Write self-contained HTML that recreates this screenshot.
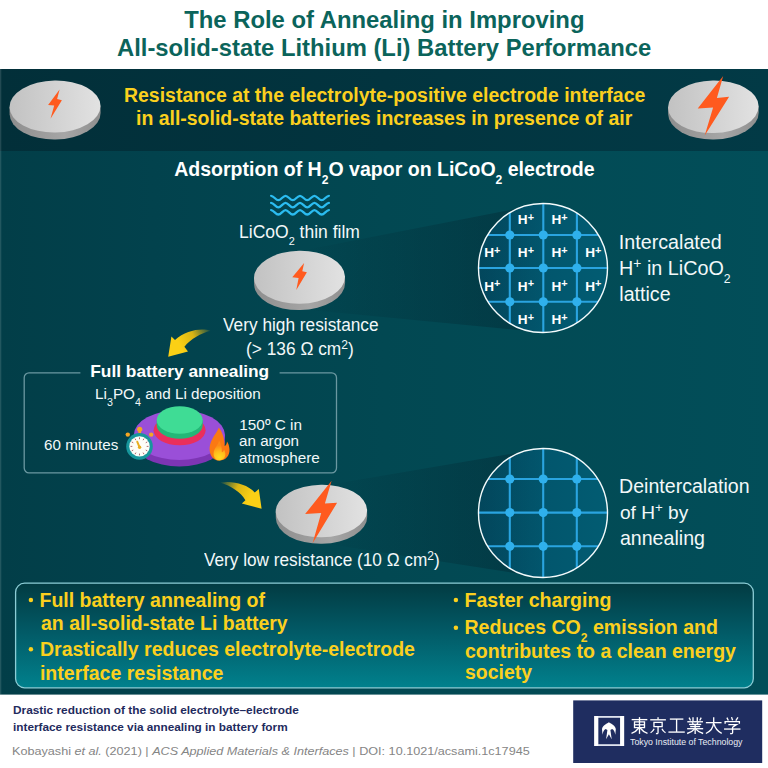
<!DOCTYPE html>
<html>
<head>
<meta charset="utf-8">
<title>The Role of Annealing in Improving All-solid-state Lithium (Li) Battery Performance</title>
<style>
*{margin:0;padding:0;box-sizing:border-box}
html,body{width:768px;height:768px;overflow:hidden;background:#fff}
body{font-family:"Liberation Sans",sans-serif;position:relative}
.abs{position:absolute}
.t{position:absolute;white-space:nowrap;line-height:1;transform-origin:0 0}
sub{font-size:.62em;vertical-align:baseline;position:relative;top:.68em;line-height:0}
sup{font-size:.70em;vertical-align:baseline;position:relative;top:-.53em;line-height:0}
.ti{color:#0b645b;font-weight:bold}
.yb{color:#fbd01e;font-weight:bold}
.wb{color:#ffffff;font-weight:bold}
.w{color:#f2f8f9}
.fb{color:#1f2b5e;font-weight:bold}
.fg{color:#858585}
.lw{color:#e9ecf4}
.hp{position:absolute;color:#fff;font-weight:bold;font-size:13.6px;line-height:1;white-space:nowrap}
.hp sup{font-size:.8em;top:-.30em}
#li sub{font-size:.70em;top:.66em}
#band{left:0;top:68.5px;width:768px;height:82.5px;background:linear-gradient(90deg,#022f39 0%,#02343f 50%,#023a46 100%)}
#main{left:0;top:151px;width:768px;height:544px;background:linear-gradient(90deg,#023e48 0%,#02424d 20%,#024852 50%,#024e59 100%)}
</style>
</head>
<body>
<div class="abs" id="band"></div>
<div class="abs" id="main"></div>
<svg class="abs" style="left:0;top:0" width="768" height="768" viewBox="0 0 768 768">
<defs>
<linearGradient id="dk_t" x1="0" y1="0" x2="1" y2="0"><stop offset="0" stop-color="#c2c2c2"/><stop offset="1" stop-color="#e2e2e2"/></linearGradient>
<linearGradient id="dk_s" x1="0" y1="0" x2="1" y2="0"><stop offset="0" stop-color="#8e8e8e"/><stop offset="0.6" stop-color="#a6a6a6"/><stop offset="1" stop-color="#8f8f8f"/></linearGradient>
<linearGradient id="cone" x1="0" y1="0" x2="1" y2="0"><stop offset="0" stop-color="#03202b" stop-opacity="0"/><stop offset="0.25" stop-color="#03202b" stop-opacity="0.13"/><stop offset="1" stop-color="#03202b" stop-opacity="0.40"/></linearGradient>
<linearGradient id="latbg" x1="0" y1="0" x2="1" y2="0"><stop offset="0" stop-color="#025068"/><stop offset="1" stop-color="#025c72"/></linearGradient>
<linearGradient id="latsh" x1="0" y1="0" x2="1" y2="0"><stop offset="0" stop-color="#05202b" stop-opacity="0.2"/><stop offset="0.5" stop-color="#05202b" stop-opacity="0"/></linearGradient>
<linearGradient id="ar1" gradientUnits="userSpaceOnUse" x1="212" y1="329" x2="180" y2="345"><stop offset="0" stop-color="#f5c40c" stop-opacity="0"/><stop offset="0.55" stop-color="#f2c20d" stop-opacity="0.9"/><stop offset="1" stop-color="#fbd015"/></linearGradient>
<linearGradient id="ar2" gradientUnits="userSpaceOnUse" x1="219" y1="482" x2="250" y2="497"><stop offset="0" stop-color="#f5c40c" stop-opacity="0"/><stop offset="0.55" stop-color="#f2c20d" stop-opacity="0.9"/><stop offset="1" stop-color="#fbd015"/></linearGradient>
<linearGradient id="bbx" x1="0" y1="0" x2="0" y2="1"><stop offset="0" stop-color="#023b42"/><stop offset="0.45" stop-color="#025965"/><stop offset="1" stop-color="#01818d"/></linearGradient>
<radialGradient id="flin" gradientUnits="userSpaceOnUse" cx="219.3" cy="457.5" r="12"><stop offset="0" stop-color="#ffdc22"/><stop offset="0.45" stop-color="#ffc01c"/><stop offset="1" stop-color="#fd8a16"/></radialGradient>
</defs>
<rect x="0" y="69" width="1.3" height="625.6" fill="#ffffff" fill-opacity="0.13"/>
<polygon points="300,251 543,203.5 543,332.5 300,309" fill="url(#cone)"/>
<polygon points="322,486 543,448.5 543,577.5 322,543" fill="url(#cone)"/>
<g transform="rotate(-1 55 106.5)"><path d="M9.5,106.5 v7.0 a45.5,26.0 0 0 0 91.0,0 v-7.0 z" fill="url(#dk_s)"/><ellipse cx="55.0" cy="106.5" rx="45.5" ry="26.0" fill="url(#dk_t)"/></g>
<polygon points="59.6,89.4 48.1,104.9 54.2,105.5 50.5,118.7 61.9,100.3 57.1,98.9" fill="#ff5a1e"/>
<g transform="rotate(-1 713.3 106.8)"><path d="M668.0,106.8 v6.5 a45.3,26.3 0 0 0 90.6,0 v-6.5 z" fill="url(#dk_s)"/><ellipse cx="713.3" cy="106.8" rx="45.3" ry="26.3" fill="url(#dk_t)"/></g>
<polygon points="723.2,76.1 697.7,108.4 713.1,107.5 704.7,135.6 729.1,96.7 716.9,98.1" fill="#ff5a1e"/>
<path d="M271.10,195.80 C273.73,195.80 275.69,200.20 278.33,200.20 C280.96,200.20 282.92,195.80 285.55,195.80 C288.18,195.80 290.14,200.20 292.78,200.20 C295.41,200.20 297.37,195.80 300.00,195.80 C302.63,195.80 304.59,200.20 307.23,200.20 C309.86,200.20 311.82,195.80 314.45,195.80 C317.08,195.80 319.04,200.20 321.68,200.20 C324.31,200.20 326.27,195.80 328.90,195.80" fill="none" stroke="#2bbcf0" stroke-width="2.3" stroke-linecap="round"/>
<path d="M271.10,202.90 C273.73,202.90 275.69,207.30 278.33,207.30 C280.96,207.30 282.92,202.90 285.55,202.90 C288.18,202.90 290.14,207.30 292.78,207.30 C295.41,207.30 297.37,202.90 300.00,202.90 C302.63,202.90 304.59,207.30 307.23,207.30 C309.86,207.30 311.82,202.90 314.45,202.90 C317.08,202.90 319.04,207.30 321.68,207.30 C324.31,207.30 326.27,202.90 328.90,202.90" fill="none" stroke="#2bbcf0" stroke-width="2.3" stroke-linecap="round"/>
<path d="M271.10,210.10 C273.73,210.10 275.69,214.50 278.33,214.50 C280.96,214.50 282.92,210.10 285.55,210.10 C288.18,210.10 290.14,214.50 292.78,214.50 C295.41,214.50 297.37,210.10 300.00,210.10 C302.63,210.10 304.59,214.50 307.23,214.50 C309.86,214.50 311.82,210.10 314.45,210.10 C317.08,210.10 319.04,214.50 321.68,214.50 C324.31,214.50 326.27,210.10 328.90,210.10" fill="none" stroke="#2bbcf0" stroke-width="2.3" stroke-linecap="round"/>
<g transform="rotate(-1 299.5 277.3)"><path d="M254.0,277.3 v6.3 a45.5,26.5 0 0 0 91.0,0 v-6.3 z" fill="url(#dk_s)"/><ellipse cx="299.5" cy="277.3" rx="45.5" ry="26.5" fill="url(#dk_t)"/></g>
<polygon points="304.1,263.0 292.3,277.3 298.6,277.9 296.3,290.0 306.9,272.2 302.3,271.3" fill="#ff5a1e"/>
<clipPath id="lc1"><circle cx="543.0" cy="268.0" r="64.5"/></clipPath><circle cx="543.0" cy="268.0" r="64.5" fill="url(#latbg)"/><g clip-path="url(#lc1)"><polygon points="478.5,203.5 607.5,203.5 607.5,332.5 478.5,332.5" fill="url(#latsh)"/><line x1="509.8" y1="203.5" x2="509.8" y2="332.5" stroke="#2aa4e0" stroke-width="2.1"/><line x1="543.3" y1="203.5" x2="543.3" y2="332.5" stroke="#2aa4e0" stroke-width="2.1"/><line x1="576.9" y1="203.5" x2="576.9" y2="332.5" stroke="#2aa4e0" stroke-width="2.1"/><line x1="478.5" y1="235.0" x2="607.5" y2="235.0" stroke="#2aa4e0" stroke-width="2.1"/><line x1="478.5" y1="268.0" x2="607.5" y2="268.0" stroke="#2aa4e0" stroke-width="2.1"/><line x1="478.5" y1="301.8" x2="607.5" y2="301.8" stroke="#2aa4e0" stroke-width="2.1"/><circle cx="509.8" cy="235.0" r="4.6" fill="#2fb0ec"/><circle cx="509.8" cy="268.0" r="4.6" fill="#2fb0ec"/><circle cx="509.8" cy="301.8" r="4.6" fill="#2fb0ec"/><circle cx="543.3" cy="235.0" r="4.6" fill="#2fb0ec"/><circle cx="543.3" cy="268.0" r="4.6" fill="#2fb0ec"/><circle cx="543.3" cy="301.8" r="4.6" fill="#2fb0ec"/><circle cx="576.9" cy="235.0" r="4.6" fill="#2fb0ec"/><circle cx="576.9" cy="268.0" r="4.6" fill="#2fb0ec"/><circle cx="576.9" cy="301.8" r="4.6" fill="#2fb0ec"/></g><circle cx="543.0" cy="268.0" r="64.5" fill="none" stroke="#f4fbfc" stroke-width="1.4"/>
<clipPath id="lc2"><circle cx="543.0" cy="513.0" r="64.5"/></clipPath><circle cx="543.0" cy="513.0" r="64.5" fill="url(#latbg)"/><g clip-path="url(#lc2)"><polygon points="478.5,448.5 607.5,448.5 607.5,577.5 478.5,577.5" fill="url(#latsh)"/><line x1="509.8" y1="448.5" x2="509.8" y2="577.5" stroke="#2aa4e0" stroke-width="2.1"/><line x1="543.2" y1="448.5" x2="543.2" y2="577.5" stroke="#2aa4e0" stroke-width="2.1"/><line x1="576.8" y1="448.5" x2="576.8" y2="577.5" stroke="#2aa4e0" stroke-width="2.1"/><line x1="478.5" y1="479.0" x2="607.5" y2="479.0" stroke="#2aa4e0" stroke-width="2.1"/><line x1="478.5" y1="512.6" x2="607.5" y2="512.6" stroke="#2aa4e0" stroke-width="2.1"/><line x1="478.5" y1="546.3" x2="607.5" y2="546.3" stroke="#2aa4e0" stroke-width="2.1"/><circle cx="509.8" cy="479.0" r="4.6" fill="#2fb0ec"/><circle cx="509.8" cy="512.6" r="4.6" fill="#2fb0ec"/><circle cx="509.8" cy="546.3" r="4.6" fill="#2fb0ec"/><circle cx="543.2" cy="479.0" r="4.6" fill="#2fb0ec"/><circle cx="543.2" cy="512.6" r="4.6" fill="#2fb0ec"/><circle cx="543.2" cy="546.3" r="4.6" fill="#2fb0ec"/><circle cx="576.8" cy="479.0" r="4.6" fill="#2fb0ec"/><circle cx="576.8" cy="512.6" r="4.6" fill="#2fb0ec"/><circle cx="576.8" cy="546.3" r="4.6" fill="#2fb0ec"/></g><circle cx="543.0" cy="513.0" r="64.5" fill="none" stroke="#f4fbfc" stroke-width="1.4"/>
<path d="M210.5,330.8 C203,327.6 186,329.5 175,340 L171.4,336.4 L168.2,356.7 L188,351.5 L184.4,346.8 C191,338.5 201,333.5 210.5,330.8 Z" fill="url(#ar1)"/>
<path d="M220.2,482.6 C232,480.5 247,484 254.8,492.4 L258.8,489 L261.6,508.8 L241.8,503.5 L245.4,500.2 C241,492.5 231,486 220.2,482.6 Z" fill="url(#ar2)"/>
<path d="M80.4,372.9 H29 a4.8,4.8 0 0 0 -4.8,4.8 V468.1 a4.8,4.8 0 0 0 4.8,4.8 H331.7 a4.8,4.8 0 0 0 4.8,-4.8 V377.7 a4.8,4.8 0 0 0 -4.8,-4.8 H279.6" fill="none" stroke="#6b98a1" stroke-width="1.3"/>
<path d="M133.8,435 v6.5 a45.6,25 0 0 0 91.2,0 v-6.5 z" fill="#7d35b4"/>
<ellipse cx="179.4" cy="435" rx="45.6" ry="25" fill="#9a4fd8"/>
<ellipse cx="179.6" cy="430.3" rx="26" ry="15" fill="#ea2f5c"/>
<path d="M156.7,420 v5 a23,13.8 0 0 0 46,0 v-5 z" fill="#23b877"/>
<ellipse cx="179.7" cy="420" rx="23" ry="13.8" fill="#3fdc95"/>
<circle cx="139.7" cy="429.3" r="2.6" fill="#f5a623"/><rect x="138.4" y="430" width="2.6" height="5" fill="#f5a623"/>
<circle cx="127.8" cy="434.6" r="2.2" fill="#f5a623"/><circle cx="151.2" cy="434.6" r="2.2" fill="#f5a623"/>
<circle cx="139.5" cy="446.4" r="13.3" fill="#17969c"/><circle cx="139.5" cy="446.4" r="10.2" fill="#fdfdf8"/>
<g stroke="#a85860" stroke-width="0.9"><line x1="139.50" y1="439.20" x2="139.50" y2="437.40"/><line x1="143.10" y1="440.16" x2="144.00" y2="438.61"/><line x1="145.74" y1="442.80" x2="147.29" y2="441.90"/><line x1="146.70" y1="446.40" x2="148.50" y2="446.40"/><line x1="145.74" y1="450.00" x2="147.29" y2="450.90"/><line x1="143.10" y1="452.64" x2="144.00" y2="454.19"/><line x1="139.50" y1="453.60" x2="139.50" y2="455.40"/><line x1="135.90" y1="452.64" x2="135.00" y2="454.19"/><line x1="133.26" y1="450.00" x2="131.71" y2="450.90"/><line x1="132.30" y1="446.40" x2="130.50" y2="446.40"/><line x1="133.26" y1="442.80" x2="131.71" y2="441.90"/><line x1="135.90" y1="440.16" x2="135.00" y2="438.61"/></g>
<path d="M139.6,447.4 L137.3,441.8" stroke="#e8ae22" stroke-width="2" stroke-linecap="round"/><circle cx="139.6" cy="447.2" r="1.7" fill="#e8ae22"/>
<path d="M218.8,427.6 C217.6,431.5 214.6,434.5 212.6,438.4 C210.3,442.6 209.3,446.5 209.6,450 C210.2,456.6 214,460.5 219,460.6 C225.6,460.7 229.8,455.6 229.5,449.5 C229.3,446 228.3,443.5 227,441.6 C226.8,444 226,445.6 224.6,446 C225,440 222.6,432.5 218.8,427.6 Z" fill="#fb7913"/>
<path d="M219,440.5 C218.5,445 214,448 213.6,453 C213.3,457.6 216,460.4 219.3,460.4 C223,460.4 225.7,457.6 225.4,453.6 C225.2,451.8 224.6,450.4 224,449.4 C223.6,451.2 222.8,452 221.8,452.2 C222.2,448.5 221,443.5 219,440.5 Z" fill="url(#flin)"/>
<g transform="rotate(-1 321.4 511)"><path d="M275.7,511.0 v6.5 a45.7,26.3 0 0 0 91.4,0 v-6.5 z" fill="url(#dk_s)"/><ellipse cx="321.4" cy="511.0" rx="45.7" ry="26.3" fill="url(#dk_t)"/></g>
<polygon points="331.6,480.7 305.1,514.1 321.2,513.1 312.6,543.3 337.1,502.7 324.9,503.5" fill="#ff5a1e"/>
<rect x="15.6" y="583.2" width="737.7" height="104.6" rx="9" ry="9" fill="url(#bbx)" stroke="#8ccdd6" stroke-width="1.3"/>
<circle cx="30.9" cy="599.9" r="2.25" fill="#fbd01e"/>
<circle cx="30.9" cy="649.3" r="2.25" fill="#fbd01e"/>
<circle cx="455.9" cy="599.9" r="2.25" fill="#fbd01e"/>
<circle cx="455.9" cy="627.7" r="2.25" fill="#fbd01e"/>
<rect x="0" y="694.6" width="768" height="74" fill="#ffffff"/>
<rect x="573.2" y="700.4" width="189" height="62.6" fill="#1f2d60"/>
<rect x="594.3" y="716" width="29.8" height="30" fill="#dfe3ee"/>
<rect x="598.2" y="717.8" width="22" height="26.4" fill="#1f2d60"/>
<rect x="594.3" y="716" width="3.9" height="30" fill="#ffffff"/><rect x="620.2" y="716" width="3.9" height="30" fill="#ffffff"/>
<path d="M608.9,722.2 C606.2,724 602.6,725.4 602,729 L602.5,734.8 C603,731.6 604,729.7 605.7,728.9 L607.4,730 L606.1,739.3 L608.9,734.2 L611.7,739.3 L610.4,730 L612.1,728.9 C613.8,729.7 614.8,731.6 615.3,734.8 L615.8,729 C615.2,725.4 611.6,724 608.9,722.2 Z" fill="#ffffff"/>
<g transform="translate(630.60 716.60) scale(0.1780)" fill="none" stroke="#ffffff" stroke-width="7.5" stroke-linecap="butt"><path d="M6,17 H94"/><path d="M50,3 V97"/><path d="M22,30 H78 V62 H22 Z"/><path d="M22,46 H78"/><path d="M46,64 C36,78 22,88 5,94"/><path d="M54,64 C64,78 78,88 95,94"/></g>
<g transform="translate(649.15 716.60) scale(0.1780)" fill="none" stroke="#ffffff" stroke-width="7.5" stroke-linecap="butt"><path d="M50,3 V16"/><path d="M6,18 H94"/><path d="M27,32 H73 V56 H27 Z"/><path d="M50,56 V90 C50,96 46,96 38,95"/><path d="M28,68 C24,78 16,86 8,91"/><path d="M72,68 C76,78 84,86 92,91"/></g>
<g transform="translate(667.70 716.60) scale(0.1780)" fill="none" stroke="#ffffff" stroke-width="7.5" stroke-linecap="butt"><path d="M12,14 H88"/><path d="M50,14 V86"/><path d="M4,87 H96"/></g>
<g transform="translate(686.25 716.60) scale(0.1780)" fill="none" stroke="#ffffff" stroke-width="7.5" stroke-linecap="butt"><path d="M38,3 V28"/><path d="M62,3 V28"/><path d="M16,6 L24,22"/><path d="M84,6 L76,22"/><path d="M6,29 H94"/><path d="M34,32 L39,42"/><path d="M66,32 L61,42"/><path d="M16,44 H84"/><path d="M22,56 H78"/><path d="M5,68 H95"/><path d="M50,44 V98"/><path d="M46,70 C36,82 22,90 5,95"/><path d="M54,70 C64,82 78,90 95,95"/></g>
<g transform="translate(704.80 716.60) scale(0.1780)" fill="none" stroke="#ffffff" stroke-width="7.5" stroke-linecap="butt"><path d="M6,34 H94"/><path d="M50,3 V34 C48,60 34,82 6,95"/><path d="M51,40 C58,64 74,84 95,94"/></g>
<g transform="translate(723.35 716.60) scale(0.1780)" fill="none" stroke="#ffffff" stroke-width="7.5" stroke-linecap="butt"><path d="M20,6 L28,22"/><path d="M46,3 L52,20"/><path d="M82,5 L70,22"/><path d="M10,40 V28 H90 V40"/><path d="M28,45 H74 L54,58"/><path d="M52,57 V90 C52,97 47,97 38,95"/><path d="M4,70 H96"/></g>
</svg>
<div class="hp" style="left:517.8px;top:212.8px">H<sup>+</sup></div>
<div class="hp" style="left:551.5px;top:212.8px">H<sup>+</sup></div>
<div class="hp" style="left:484.2px;top:246.1px">H<sup>+</sup></div>
<div class="hp" style="left:517.8px;top:246.1px">H<sup>+</sup></div>
<div class="hp" style="left:551.5px;top:246.1px">H<sup>+</sup></div>
<div class="hp" style="left:585.2px;top:246.1px">H<sup>+</sup></div>
<div class="hp" style="left:484.2px;top:279.7px">H<sup>+</sup></div>
<div class="hp" style="left:517.8px;top:279.7px">H<sup>+</sup></div>
<div class="hp" style="left:551.5px;top:279.7px">H<sup>+</sup></div>
<div class="hp" style="left:585.2px;top:279.7px">H<sup>+</sup></div>
<div class="hp" style="left:517.8px;top:313.4px">H<sup>+</sup></div>
<div class="hp" style="left:551.5px;top:313.4px">H<sup>+</sup></div>
<div class="t ti" id="t1" style="left:184.24px;top:8.10px;font-size:23.84px;transform:scaleX(1.0000)">The Role of Annealing in Improving</div>
<div class="t ti" id="t2" style="left:116.97px;top:36.10px;font-size:23.80px;transform:scaleX(1.0000)">All-solid-state Lithium (Li) Battery Performance</div>
<div class="t yb" id="y1" style="left:124.00px;top:86.10px;font-size:19.50px;transform:scaleX(0.9979)">Resistance at the electrolyte-positive electrode interface</div>
<div class="t yb" id="y2" style="left:136.10px;top:109.10px;font-size:19.50px;transform:scaleX(0.9976)">in all-solid-state batteries increases in presence of air</div>
<div class="t wb" id="ad" style="left:174.18px;top:160.10px;font-size:19.54px;transform:scaleX(1.0000)">Adsorption of H<sub>2</sub>O vapor on LiCoO<sub>2</sub> electrode</div>
<div class="t w" id="tf" style="left:239.28px;top:224.12px;font-size:17.50px;transform:scaleX(1.0005)">LiCoO<sub>2</sub> thin film</div>
<div class="t w" id="vh" style="left:222.50px;top:317.14px;font-size:17.50px;transform:scaleX(0.9875)">Very high resistance</div>
<div class="t w" id="vh2" style="left:246.46px;top:341.14px;font-size:17.50px;transform:scaleX(0.9895)">(&gt; 136 &Omega; cm<sup>2</sup>)</div>
<div class="t wb" id="fb" style="left:90.28px;top:363.10px;font-size:17.32px;transform:scaleX(1.0000)">Full battery annealing</div>
<div class="t w" id="li" style="left:95.07px;top:386.30px;font-size:15.29px;transform:scaleX(1.0000)">Li<sub>3</sub>PO<sub>4</sub> and Li deposition</div>
<div class="t w" id="m60" style="left:44.07px;top:437.35px;font-size:15.18px;transform:scaleX(1.0000)">60 minutes</div>
<div class="t w" id="c1" style="left:239.37px;top:417.30px;font-size:15.31px;transform:scaleX(1.0000)">150&ordm; C in</div>
<div class="t w" id="c2" style="left:239.07px;top:433.35px;font-size:15.19px;transform:scaleX(1.0000)">an argon</div>
<div class="t w" id="c3" style="left:239.06px;top:450.30px;font-size:15.29px;transform:scaleX(1.0000)">atmosphere</div>
<div class="t w" id="vl" style="left:204.10px;top:552.17px;font-size:17.50px;transform:scaleX(0.9834)">Very low resistance (10 &Omega; cm<sup>2</sup>)</div>
<div class="t w" id="i1" style="left:618.83px;top:233.11px;font-size:19.69px;transform:scaleX(1.0000)">Intercalated</div>
<div class="t w" id="i2" style="left:619.09px;top:259.12px;font-size:19.77px;transform:scaleX(1.0000)">H<sup>+</sup> in LiCoO<sub>2</sub></div>
<div class="t w" id="i3" style="left:619.37px;top:285.11px;font-size:19.60px;transform:scaleX(1.0000)">lattice</div>
<div class="t w" id="d1" style="left:619.10px;top:477.11px;font-size:19.57px;transform:scaleX(1.0000)">Deintercalation</div>
<div class="t w" id="d2" style="left:619.92px;top:503.12px;font-size:19.11px;transform:scaleX(1.0000)">of H<sup>+</sup> by</div>
<div class="t w" id="d3" style="left:619.90px;top:529.11px;font-size:19.62px;transform:scaleX(1.0000)">annealing</div>
<div class="t yb" id="b1" style="left:39.47px;top:591.10px;font-size:19.52px;transform:scaleX(1.0000)">Full battery annealing of</div>
<div class="t yb" id="b2" style="left:40.72px;top:614.10px;font-size:19.50px;transform:scaleX(0.9984)">an all-solid-state Li battery</div>
<div class="t yb" id="b3" style="left:39.58px;top:640.10px;font-size:19.50px;transform:scaleX(0.9998)">Drastically reduces electrolyte-electrode</div>
<div class="t yb" id="b4" style="left:39.92px;top:664.10px;font-size:19.54px;transform:scaleX(1.0000)">interface resistance</div>
<div class="t yb" id="r1" style="left:464.47px;top:591.10px;font-size:19.58px;transform:scaleX(1.0000)">Faster charging</div>
<div class="t yb" id="r2" style="left:464.47px;top:618.10px;font-size:19.57px;transform:scaleX(1.0000)">Reduces CO<sub>2</sub> emission and</div>
<div class="t yb" id="r3" style="left:465.00px;top:642.10px;font-size:19.51px;transform:scaleX(1.0000)">contributes to a clean energy</div>
<div class="t yb" id="r4" style="left:465.01px;top:663.10px;font-size:19.50px;transform:scaleX(0.9964)">society</div>
<div class="t fb" id="f1" style="left:12.75px;top:705.15px;font-size:11.80px;transform:scaleX(1.0044)">Drastic reduction of the solid electrolyte&ndash;electrode</div>
<div class="t fb" id="f2" style="left:12.75px;top:722.15px;font-size:11.80px;transform:scaleX(0.9998)">interface resistance via annealing in battery form</div>
<div class="t fg" id="f3" style="left:11.83px;top:746.27px;font-size:11.80px;transform:scaleX(1.0702)">Kobayashi <i>et al.</i> (2021) | <i>ACS Applied Materials &amp; Interfaces</i> | DOI: 10.1021/acsami.1c17945</div>
<div class="t lw" id="lg" style="left:630.16px;top:738.34px;font-size:9.20px;transform:scaleX(0.9549)">Tokyo Institute of Technology</div>
</body>
</html>
